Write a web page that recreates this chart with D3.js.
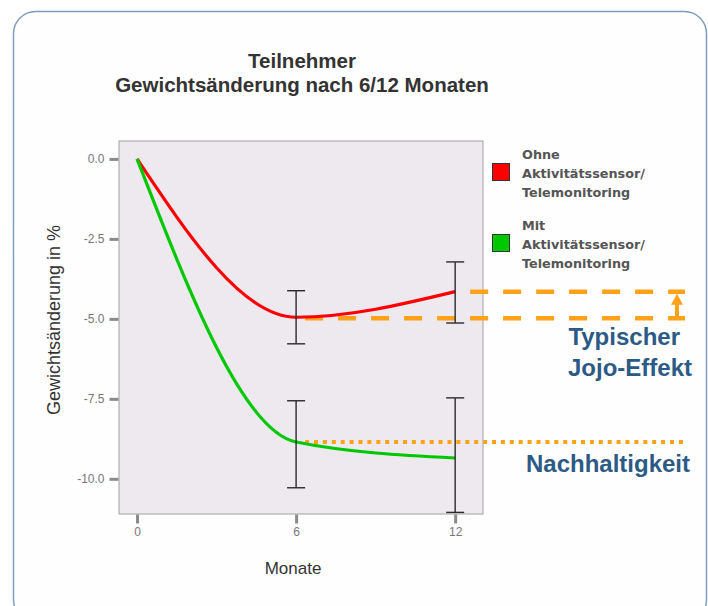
<!DOCTYPE html>
<html>
<head>
<meta charset="utf-8">
<script src="https://cdn.jsdelivr.net/npm/d3@7"></script>
<style>
  body { margin: 0; background: #fff; }
  svg { display: block; font-family: "Liberation Sans", Arial, sans-serif; }
</style>
</head>
<body>
<div id="chart"></div>
<script>
// data
var months = [0, 6, 12];
var ohne = [0, -4.95, -4.15];
var ohneLo = [null, -5.78, -5.13];
var ohneHi = [null, -4.12, -3.22];
var mit = [0, -8.85, -9.35];
var mitLo = [null, -10.28, -11.05];
var mitHi = [null, -7.56, -7.47];
var yTicks = [0, -2.5, -5, -7.5, -10];
var xTicks = [0, 6, 12];
var legendItems = [
  { lines: ["Ohne", "Aktivitätssensor/", "Telemonitoring"], color: "#ff0000" },
  { lines: ["Mit", "Aktivitätssensor/", "Telemonitoring"], color: "#00c800" }
];

var W = 708, H = 606;
var plot = { left: 119, top: 141, right: 483, bottom: 514 };

var svg = d3.select("#chart").append("svg")
    .attr("width", W).attr("height", H);

// card
svg.append("rect")
    .attr("x", 13.5).attr("y", 11.5)
    .attr("width", 693).attr("height", 610)
    .attr("rx", 22).attr("ry", 22)
    .attr("fill", "#fefefe")
    .attr("stroke", "#7f9dbe")
    .attr("stroke-width", 1.5);

var x = d3.scaleLinear().domain([-0.68, 13.05]).range([plot.left, plot.right]);
var y = d3.scaleLinear().domain([-11.1, 0.56]).range([plot.bottom, plot.top]);

// title
svg.append("text").attr("x", 302).attr("y", 68)
    .attr("text-anchor", "middle").attr("font-size", 20.5).attr("font-weight", "bold")
    .attr("fill", "#333").text("Teilnehmer");
svg.append("text").attr("x", 302).attr("y", 92)
    .attr("text-anchor", "middle").attr("font-size", 20.5).attr("font-weight", "bold")
    .attr("fill", "#333").text("Gewichtsänderung nach 6/12 Monaten");

// plot background
svg.append("rect")
    .attr("x", plot.left).attr("y", plot.top)
    .attr("width", plot.right - plot.left).attr("height", plot.bottom - plot.top)
    .attr("fill", "#ede9ef")
    .attr("stroke", "#a0a0a0").attr("stroke-width", 1);

// axes
var fmt = d3.format(".1f");
var yAxis = d3.axisLeft(y).tickValues(yTicks).tickSize(9).tickPadding(5)
    .tickFormat(function(d) { return fmt(d).replace("\u2212", "-"); });
var gy = svg.append("g").attr("transform", "translate(" + (plot.left - 0.5) + ",0)").call(yAxis);
var xAxis = d3.axisBottom(x).tickValues(xTicks).tickSize(9).tickPadding(4);
var gx = svg.append("g").attr("transform", "translate(0," + (plot.bottom + 0.5) + ")").call(xAxis);
[gx, gy].forEach(function(g) {
    g.select(".domain").remove();
    g.selectAll(".tick line").attr("stroke", "#8a8a8a").attr("stroke-width", 3);
    g.selectAll(".tick text").attr("fill", "#777").attr("font-size", 12)
        .attr("font-family", "Liberation Sans, Arial, sans-serif");
});

// axis titles
svg.append("text")
    .attr("transform", "translate(60,320) rotate(-90)")
    .attr("text-anchor", "middle").attr("font-size", 18).attr("fill", "#333")
    .text("Gewichtsänderung in %");
svg.append("text").attr("x", 293).attr("y", 574)
    .attr("text-anchor", "middle").attr("font-size", 17).attr("fill", "#333")
    .text("Monate");

// annotation lines (behind the curves)
var orange = "#ffa21a";
var annoStart = x(6) + 9, annoEnd = 685;
svg.append("line")
    .attr("x1", annoStart).attr("x2", annoEnd)
    .attr("y1", y(ohne[1]) + 1).attr("y2", y(ohne[1]) + 1)
    .attr("stroke", orange).attr("stroke-width", 4.5)
    .attr("stroke-dasharray", "18,15");
svg.append("line")
    .attr("x1", x(12) + 15).attr("x2", annoEnd)
    .attr("y1", y(ohne[2])).attr("y2", y(ohne[2]))
    .attr("stroke", orange).attr("stroke-width", 4.5)
    .attr("stroke-dasharray", "18,15");
svg.append("line")
    .attr("x1", annoStart).attr("x2", annoEnd)
    .attr("y1", y(mit[1])).attr("y2", y(mit[1]))
    .attr("stroke", orange).attr("stroke-width", 4)
    .attr("stroke-dasharray", "4,4.9");

// arrow
var ax = 677;
svg.append("line")
    .attr("x1", ax).attr("x2", ax)
    .attr("y1", y(ohne[1])).attr("y2", y(ohne[2]) + 10)
    .attr("stroke", orange).attr("stroke-width", 4);
svg.append("path")
    .attr("d", "M" + (ax - 6) + "," + (y(ohne[2]) + 13) + "L" + ax + "," + (y(ohne[2]) + 2) +
         "L" + (ax + 6) + "," + (y(ohne[2]) + 13) + "Z")
    .attr("fill", orange);

// curves
var line = d3.line()
    .x(function(d) { return x(d[0]); })
    .y(function(d) { return y(d[1]); })
    .curve(d3.curveMonotoneX);

svg.append("clipPath").attr("id", "plotclip").append("rect")
    .attr("x", plot.left).attr("y", plot.top)
    .attr("width", plot.right - plot.left).attr("height", plot.bottom - plot.top);

var series = [
    { vals: ohne, lo: ohneLo, hi: ohneHi, color: "#ff0000" },
    { vals: mit, lo: mitLo, hi: mitHi, color: "#00c800" }
];

var gPlot = svg.append("g").attr("clip-path", "url(#plotclip)");
series.forEach(function(s) {
    gPlot.append("path")
        .datum(months.map(function(m, i) { return [m, s.vals[i]]; }))
        .attr("d", line)
        .attr("fill", "none")
        .attr("stroke", s.color)
        .attr("stroke-width", 3.2);
});

// error bars
series.forEach(function(s) {
    months.forEach(function(m, i) {
        if (s.lo[i] === null) return;
        var cx = x(m);
        var g = gPlot.append("g").attr("stroke", "#2a2a2a").attr("stroke-width", 1.4);
        g.append("line").attr("x1", cx).attr("x2", cx).attr("y1", y(s.lo[i])).attr("y2", y(s.hi[i]));
        g.append("line").attr("x1", cx - 9).attr("x2", cx + 9).attr("y1", y(s.lo[i])).attr("y2", y(s.lo[i]));
        g.append("line").attr("x1", cx - 9).attr("x2", cx + 9).attr("y1", y(s.hi[i])).attr("y2", y(s.hi[i]));
    });
});

// legend
var leg = svg.append("g");
legendItems.forEach(function(item, k) {
    var top = 145 + k * 71;
    leg.append("rect")
        .attr("x", 492.5).attr("y", top + 18.5)
        .attr("width", 17).attr("height", 17)
        .attr("fill", item.color).attr("stroke", "#333").attr("stroke-width", 1);
    item.lines.forEach(function(t, j) {
        leg.append("text")
            .attr("x", 522).attr("y", top + 14 + j * 19)
            .attr("font-family", "DejaVu Sans, Verdana, sans-serif")
            .attr("font-size", 12.8).attr("font-weight", "bold")
            .attr("fill", "#555")
            .text(t);
    });
});

// annotation text
var blue = "#2c5a86";
[["Typischer", 680, 345], ["Jojo-Effekt", 692, 376], ["Nachhaltigkeit", 690, 472]].forEach(function(a) {
    svg.append("text")
        .attr("x", a[1]).attr("y", a[2])
        .attr("text-anchor", "end")
        .attr("font-size", 24).attr("font-weight", "bold")
        .attr("fill", blue)
        .text(a[0]);
});
</script>
</body>
</html>
